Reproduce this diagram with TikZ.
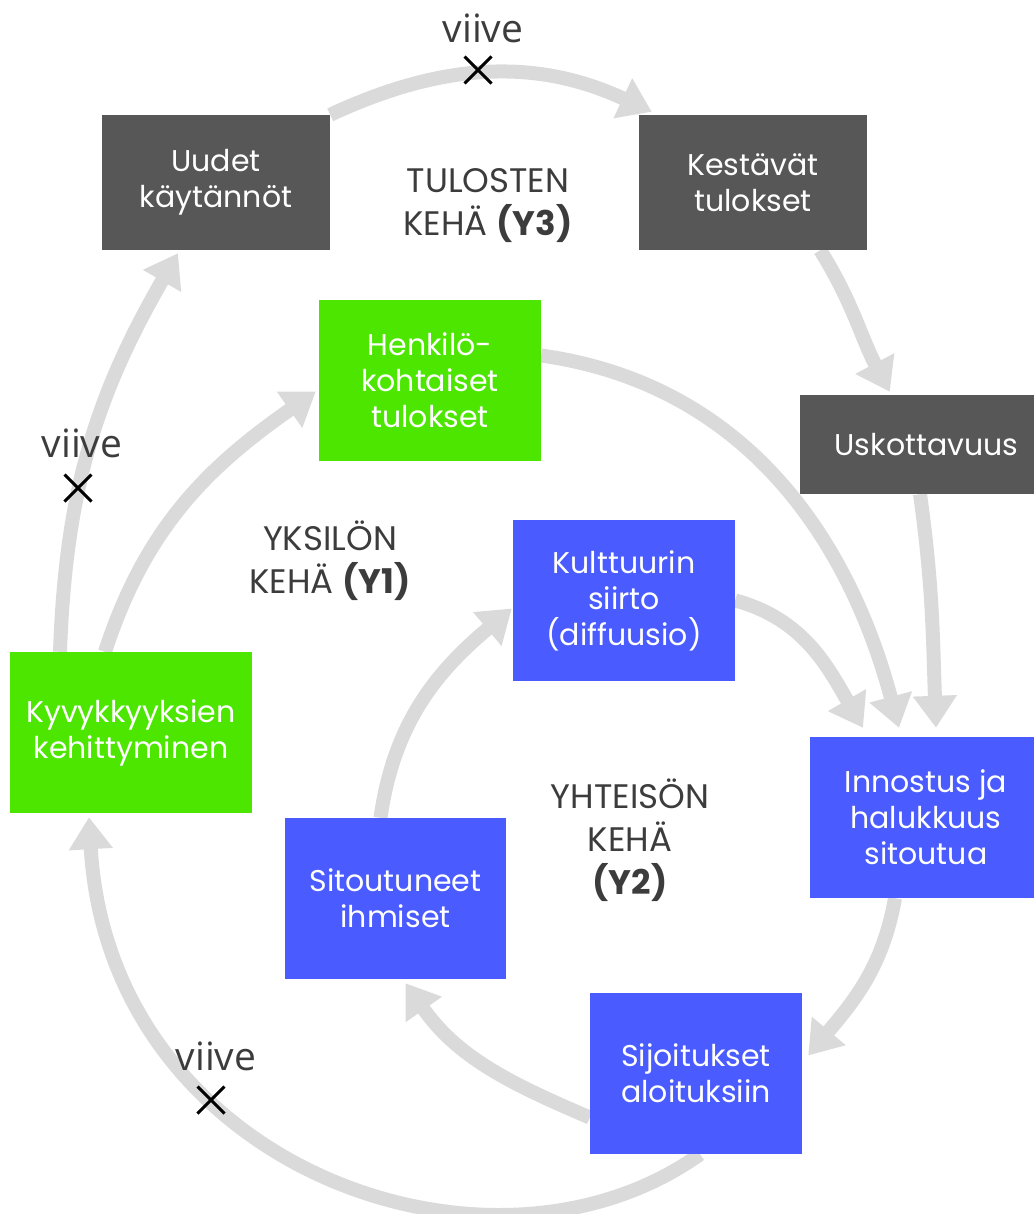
\documentclass[tikz,border=0pt]{standalone}
\usepackage{fontspec}
\setmainfont{Poppins}
\newfontfamily\viivefont{Open Sans}
\usetikzlibrary{arrows.meta,shapes.misc,backgrounds}
\definecolor{darkbox}{HTML}{575757}
\definecolor{greenbox}{HTML}{4CE600}
\definecolor{bluebox}{HTML}{4A5CFF}
\definecolor{flowgray}{HTML}{DADADA}
\definecolor{labelgray}{HTML}{3C3C3C}

\begin{document}
\begin{tikzpicture}[x=1pt,y=1pt,
    box/.style={rectangle,inner sep=0pt,align=center,text=white,
      font=\fontsize{30}{36}\selectfont},
    dark box/.style={box,fill=darkbox},
    green box/.style={box,fill=greenbox},
    blue box/.style={box,fill=bluebox},
    ring label/.style={align=center,text=labelgray,font=\fontsize{34}{43}\selectfont},
    delay/.style={text=labelgray,font=\viivefont\fontsize{39}{42}\selectfont},
    delay mark/.style={cross out,draw=black,line width=3pt,minimum size=24pt,inner sep=0pt},
    flow/.style={draw=flowgray,line width=14pt,-{Triangle[width=42pt,length=32pt]}}]

  \useasboundingbox (0,0) rectangle (1033,-1214);

  % boxes
  \node[dark box,minimum width=228pt,minimum height=135pt] (uudet) at (216,-182.5) {Uudet\\käytännöt};
  \node[dark box,minimum width=228pt,minimum height=135pt] (kestavat) at (753,-182.5) {Kestävät\\tulokset};
  \node[green box,minimum width=222pt,minimum height=161pt] (henkilo) at (430,-380.5) {Henkilö-\\kohtaiset\\tulokset};
  \node[dark box,minimum width=253pt,minimum height=99pt] (uskottavuus) at (926.5,-444.5) {Uskottavuus};
  \node[blue box,minimum width=222pt,minimum height=161pt] (kulttuuri) at (624,-600.5) {Kulttuurin\\siirto\\(diffuusio)};
  \node[green box,minimum width=242pt,minimum height=161pt] (kyvy) at (131,-732.5) {Kyvykkyyksien\\kehittyminen};
  \node[blue box,minimum width=232pt,minimum height=161pt] (innostus) at (926,-817.5) {Innostus ja\\halukkuus\\sitoutua};
  \node[blue box,minimum width=221pt,minimum height=161pt] (sitoutuneet) at (395.5,-898.5) {Sitoutuneet\\ihmiset};
  \node[blue box,minimum width=212pt,minimum height=161pt] (sijoitukset) at (696,-1073.5) {Sijoitukset\\aloituksiin};

  % ring names
  \node[ring label] (y3) at (488,-206) {TULOSTEN\\KEHÄ \textbf{(Y3)}};
  \node[ring label] (y1) at (330,-561) {YKSILÖN\\KEHÄ \textbf{(Y1)}};
  \node[ring label] (y2) at (630,-840) {YHTEISÖN\\KEHÄ\\\textbf{(Y2)}};

  % arrows
  \begin{scope}[on background layer]
    \draw[flow] (uudet.north east) to[out=25,in=155] ([shift={(13pt,3pt)}]kestavat.north west);
    \draw[flow] ([xshift=-47pt]kestavat.south east) to[out=-58,in=118] ([shift={(90pt,3pt)}]uskottavuus.north west);
    \draw[flow] ([xshift=-6.5pt]uskottavuus.south) to[out=-82,in=92] ([shift={(10pt,9pt)}]innostus.north);
    \draw[flow] ([yshift=25pt]henkilo.east) to[out=-8,in=105] ([shift={(-27pt,9pt)}]innostus.north);
    \draw[flow] (kulttuuri.east) to[out=-15,in=120] ([shift={(-63pt,9pt)}]innostus.north);
    \draw[flow] ([xshift=-31pt]innostus.south) to[out=-100,in=50] ([shift={(6pt,18pt)}]sijoitukset.east);
    \draw[flow] ([yshift=-44pt]sijoitukset.west) to[out=157,in=-55] ([shift={(10pt,-4pt)}]sitoutuneet.south);
    \draw[flow] ([xshift=-15pt]sitoutuneet.north) to[out=82,in=-140] ([shift={(-1pt,-8pt)}]kulttuuri.west);
    \draw[flow] ([xshift=4pt]sijoitukset.south) .. controls +(-210pt,-150pt) and +(20pt,-350pt) .. ([shift={(-42pt,-4pt)}]kyvy.south);
    \draw[flow] ([xshift=-26pt]kyvy.north) to[out=72,in=-145] ([shift={(-3pt,-11pt)}]henkilo.west);
    \draw[flow] ([xshift=-71pt]kyvy.north) to[out=88,in=-120] ([shift={(-38pt,-3pt)}]uudet.south);
  \end{scope}

  % delays
  \node[delay mark] (x1) at (478,-70) {};
  \node[delay] (v1) at (483,-28) {viive};
  \node[delay mark] (x2) at (78,-488) {};
  \node[delay] (v2) at (82,-443) {viive};
  \node[delay mark] (x3) at (211,-1100) {};
  \node[delay] (v3) at (216,-1056) {viive};
\end{tikzpicture}
\end{document}
